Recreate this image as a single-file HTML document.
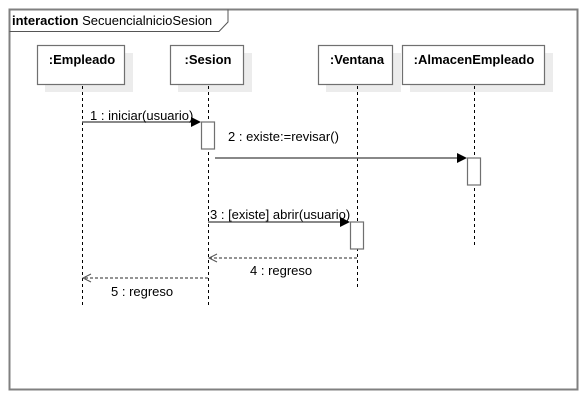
<!DOCTYPE html>
<html><head><style>body{margin:0;background:#fff}svg{display:block}</style></head><body>
<svg width="588" height="400" xmlns="http://www.w3.org/2000/svg" font-family="Liberation Sans, sans-serif" font-size="11">
<rect x="0" y="0" width="588" height="400" fill="#fff"/>
<rect x="9.5" y="9.5" width="568" height="380" fill="none" stroke="#808080" stroke-width="2"/>
<path d="M9.5 31.5 H219 L228 22 V9.5" fill="none" stroke="#555" stroke-width="1"/>
<text x="12" y="25" font-size="13"><tspan font-weight="bold">interaction</tspan> SecuencialnicioSesion</text>
<g fill="#ececec">
<rect x="45" y="53" width="88" height="39"/><rect x="178" y="53" width="74" height="39"/>
<rect x="326" y="53" width="75" height="39"/><rect x="410" y="53" width="143" height="39"/>
</g>
<g fill="#fff" stroke="#707070" stroke-width="1.2">
<rect x="37.5" y="45.5" width="87" height="39"/><rect x="170.5" y="45.5" width="73" height="39"/>
<rect x="318.5" y="45.5" width="74" height="39"/><rect x="402.5" y="45.5" width="142" height="39"/>
</g>
<g font-size="13" font-weight="bold" text-anchor="middle">
<text x="82" y="64">:Empleado</text><text x="208" y="64">:Sesion</text>
<text x="357" y="64">:Ventana</text><text x="474" y="64">:AlmacenEmpleado</text>
</g>
<g stroke="#000" stroke-dasharray="3,3" stroke-width="1">
<line x1="82.5" y1="86" x2="82.5" y2="305"/><line x1="208.5" y1="86" x2="208.5" y2="305"/>
<line x1="357.5" y1="86" x2="357.5" y2="287"/><line x1="474.5" y1="86" x2="474.5" y2="245"/>
</g>
<g fill="#fff" stroke="#707070" stroke-width="1.2">
<rect x="201.5" y="122" width="13" height="27"/><rect x="467.5" y="158" width="13" height="27"/>
<rect x="350.5" y="222" width="13" height="27"/>
</g>
<g stroke="#606060" stroke-width="1.5">
<line x1="82" y1="122" x2="194" y2="122"/><line x1="215" y1="158" x2="460" y2="158"/>
<line x1="208" y1="222" x2="343" y2="222"/>
</g>
<g fill="#000">
<polygon points="191,117 201,122 191,127"/><polygon points="457,153 467,158 457,163"/><polygon points="340,217 350,222 340,227"/>
</g>
<g stroke="#555" stroke-width="1.2" stroke-dasharray="3,2" fill="none">
<line x1="357" y1="258" x2="209" y2="258"/><line x1="208" y1="278" x2="83" y2="278"/>
</g>
<g stroke="#555" stroke-width="1" fill="none">
<path d="M217 254 L209 258 L217 262"/><path d="M91 274 L83 278 L91 282"/>
</g>
<g font-size="13" fill="#000">
<text x="90" y="120">1 : iniciar(usuario)</text>
<text x="228" y="141">2 : existe:=revisar()</text>
<text x="210" y="219">3 : [existe] abrir(usuario)</text>
<text x="250" y="275">4 : regreso</text>
<text x="111" y="296">5 : regreso</text>
</g>
</svg>
</body></html>
